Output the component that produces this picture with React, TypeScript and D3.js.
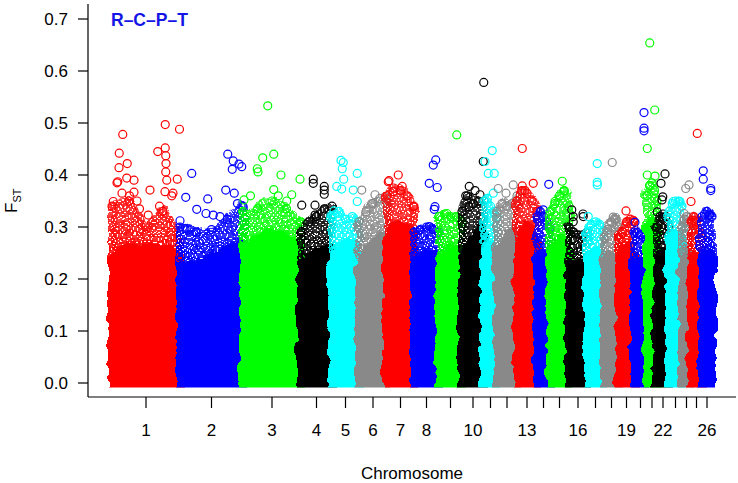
import React from "react";
import * as d3 from "d3";

// sheep autosomes, lengths in Mb
const chromosomes = d3.range(1, 27);
const chrLengths = [
  272, 252, 232, 124, 108, 112, 108, 100, 92, 88, 52, 80, 80, 52, 76, 72, 68, 60,
  60, 52, 40, 48, 52, 36, 44, 40,
];
const chrColors = ["#ff0000", "#0000ff", "#00ff00", "#000000", "#00ffff", "#898989"];
const xTickLabels = [
  "1", "2", "3", "4", "5", "6", "7", "8", "", "10", "", "", "13", "", "", "16", "", "",
  "19", "", "", "22", "", "", "", "26",
];
const yTicks = [0, 0.1, 0.2, 0.3, 0.4, 0.5, 0.6, 0.7];

// dense part of each chromosome: sampled at these fractions of its length
const bandFrac = [0, 0.25, 0.5, 0.75, 1];
// solid core top
const bandCore = [
  [0.24, 0.26, 0.26, 0.26, 0.24],
  [0.225, 0.23, 0.24, 0.255, 0.27],
  [0.26, 0.28, 0.29, 0.28, 0.26],
  [0.23, 0.245, 0.25, 0.255, 0.26],
  [0.24, 0.26, 0.27, 0.27, 0.25],
  [0.23, 0.25, 0.27, 0.28, 0.28],
  [0.28, 0.3, 0.305, 0.3, 0.28],
  [0.24, 0.245, 0.25, 0.245, 0.24],
  [0.24, 0.25, 0.26, 0.25, 0.24],
  [0.24, 0.26, 0.27, 0.29, 0.3],
  [0.26, 0.265, 0.265, 0.26, 0.25],
  [0.25, 0.26, 0.28, 0.29, 0.28],
  [0.27, 0.29, 0.305, 0.29, 0.27],
  [0.24, 0.25, 0.25, 0.25, 0.24],
  [0.25, 0.265, 0.275, 0.27, 0.25],
  [0.22, 0.23, 0.23, 0.23, 0.22],
  [0.24, 0.25, 0.255, 0.25, 0.24],
  [0.23, 0.24, 0.245, 0.24, 0.23],
  [0.24, 0.255, 0.26, 0.26, 0.25],
  [0.23, 0.235, 0.235, 0.23, 0.225],
  [0.29, 0.305, 0.31, 0.3, 0.29],
  [0.24, 0.25, 0.255, 0.25, 0.24],
  [0.27, 0.28, 0.29, 0.29, 0.28],
  [0.24, 0.25, 0.252, 0.25, 0.24],
  [0.23, 0.245, 0.246, 0.24, 0.23],
  [0.24, 0.25, 0.255, 0.25, 0.24],
];
// top of the overlapping-circle fringe
const bandEdge = [
  [0.34, 0.35, 0.3, 0.33, 0.27],
  [0.3, 0.29, 0.295, 0.315, 0.34],
  [0.33, 0.335, 0.35, 0.335, 0.31],
  [0.29, 0.31, 0.32, 0.335, 0.34],
  [0.32, 0.33, 0.315, 0.32, 0.31],
  [0.31, 0.33, 0.345, 0.355, 0.35],
  [0.36, 0.375, 0.37, 0.36, 0.34],
  [0.29, 0.295, 0.3, 0.295, 0.29],
  [0.32, 0.325, 0.32, 0.32, 0.31],
  [0.33, 0.36, 0.345, 0.35, 0.35],
  [0.35, 0.355, 0.34, 0.33, 0.32],
  [0.33, 0.345, 0.34, 0.345, 0.36],
  [0.35, 0.37, 0.365, 0.35, 0.33],
  [0.32, 0.33, 0.32, 0.31, 0.3],
  [0.33, 0.345, 0.36, 0.37, 0.34],
  [0.3, 0.29, 0.285, 0.285, 0.29],
  [0.29, 0.305, 0.31, 0.305, 0.29],
  [0.28, 0.295, 0.31, 0.315, 0.3],
  [0.28, 0.29, 0.31, 0.315, 0.31],
  [0.29, 0.29, 0.285, 0.28, 0.27],
  [0.36, 0.38, 0.385, 0.37, 0.35],
  [0.3, 0.32, 0.325, 0.32, 0.3],
  [0.33, 0.345, 0.35, 0.35, 0.34],
  [0.3, 0.315, 0.32, 0.31, 0.29],
  [0.31, 0.32, 0.31, 0.29, 0.28],
  [0.32, 0.325, 0.33, 0.325, 0.32],
];

// [chromosome, position within chromosome (Mb), Fst]
const outliers: [number, number, number][] = [
  [1, 43, 0.478], [1, 213, 0.497], [1, 270, 0.488], [1, 29, 0.442], [1, 61, 0.422],
  [1, 28, 0.414], [1, 183, 0.445], [1, 213, 0.452], [1, 215, 0.437], [1, 216, 0.422],
  [1, 215, 0.406], [1, 219, 0.39], [1, 261, 0.392], [1, 152, 0.371], [1, 59, 0.394],
  [1, 88, 0.39], [1, 23, 0.387], [1, 20, 0.385], [1, 239, 0.36], [1, 5, 0.349],
  [1, 145, 0.323], [1, 212, 0.368], [1, 244, 0.365], [1, 88, 0.367], [1, 70, 0.36],
  [1, 110, 0.335], [1, 190, 0.34], [1, 40, 0.365], [1, 100, 0.35],
  [2, 47, 0.403], [2, 23, 0.357], [2, 111, 0.354], [2, 67, 0.334], [2, 104, 0.326],
  [2, 133, 0.323], [2, 191, 0.44], [2, 213, 0.427], [2, 236, 0.421], [2, 209, 0.411],
  [2, 247, 0.416], [2, 183, 0.371], [2, 217, 0.365], [2, 0, 0.312], [2, 20, 0.297],
  [2, 160, 0.32], [2, 230, 0.345],
  [3, 99, 0.533], [3, 79, 0.433], [3, 123, 0.44], [3, 57, 0.412], [3, 60, 0.406],
  [3, 152, 0.4], [3, 228, 0.392], [3, 123, 0.372], [3, 195, 0.362], [3, 141, 0.36],
  [3, 4, 0.352], [3, 30, 0.36], [3, 175, 0.35],
  [4, 49, 0.392], [4, 49, 0.384], [4, 93, 0.378], [4, 93, 0.371], [4, 93, 0.363],
  [4, 3, 0.342], [4, 56, 0.342], [4, 56, 0.323],
  [5, 36, 0.428], [5, 45, 0.424], [5, 41, 0.412], [5, 101, 0.403], [5, 47, 0.392],
  [5, 19, 0.378], [5, 39, 0.373], [5, 85, 0.371], [5, 101, 0.349], [5, 8, 0.331],
  [6, 11, 0.371], [6, 64, 0.362], [6, 104, 0.358], [6, 51, 0.345],
  [7, 45, 0.4], [7, 5, 0.387], [7, 61, 0.378], [7, 25, 0.368], [7, 105, 0.339], [7, 8, 0.389],
  [8, 87, 0.429], [8, 77, 0.419], [8, 61, 0.384], [8, 93, 0.376], [8, 84, 0.339],
  [8, 81, 0.334], [8, 61, 0.301],
  [9, 71, 0.477], [9, 31, 0.326],
  [10, 87, 0.578], [10, 85, 0.426], [10, 29, 0.378], [10, 52, 0.37], [10, 15, 0.36],
  [10, 72, 0.362], [10, 29, 0.339],
  [11, 33, 0.447], [11, 4, 0.426], [11, 17, 0.403], [11, 41, 0.403], [11, 37, 0.365],
  [12, 5, 0.374], [12, 36, 0.365], [12, 65, 0.381],
  [13, 21, 0.451], [13, 65, 0.384], [13, 21, 0.379], [13, 32, 0.37],
  [14, 47, 0.382], [14, 25, 0.333],
  [15, 49, 0.388], [15, 56, 0.369], [15, 20, 0.349],
  [16, 11, 0.333], [16, 17, 0.32], [16, 57, 0.32], [16, 17, 0.31], [16, 56, 0.325],
  [17, 41, 0.422], [17, 41, 0.386], [17, 41, 0.381], [17, 5, 0.32],
  [18, 33, 0.424], [18, 37, 0.319],
  [19, 28, 0.331], [19, 57, 0.313],
  [20, 40, 0.52], [20, 40, 0.49], [20, 40, 0.485], [20, 4, 0.309],
  [21, 11, 0.654], [21, 31, 0.525], [21, 1, 0.451], [21, 1, 0.4], [21, 32, 0.398],
  [21, 12, 0.379],
  [22, 32, 0.402], [22, 16, 0.384], [22, 23, 0.358], [22, 20, 0.352], [22, 1, 0.329],
  [22, 23, 0.315],
  [23, 17, 0.349], [23, 44, 0.349],
  [24, 28, 0.381], [24, 15, 0.374], [24, 8, 0.326],
  [25, 25, 0.48], [25, 0, 0.349], [25, 12, 0.313],
  [26, 5, 0.408], [26, 5, 0.392], [26, 35, 0.374], [26, 35, 0.37], [26, 29, 0.322],
];

const width = 738;
const height = 483;
const font = "'Liberation Sans', Arial, Helvetica, sans-serif";
const R = 4;

export default function App() {
  const starts = [0, ...Array.from(d3.cumsum(chrLengths))].slice(0, chrLengths.length);
  const total = d3.sum(chrLengths);

  const x = d3.scaleLinear().domain([0, total]).range([112, 712]);
  const y = d3.scaleLinear().domain([0, 0.7]).range([383, 19]);
  const floor = y(0) + R + 0.5;

  // areas run below the floor and get clipped, so the roughening filter only shows on top
  const area = d3
    .area<[number, number]>()
    .x((d) => x(d[0]))
    .y0(floor + 8)
    .y1((d) => y(d[1]))
    .curve(d3.curveMonotoneX);

  const colorOf = (chr: number) => chrColors[(chr - 1) % chrColors.length];

  return (
    <svg
      width={width}
      height={height}
      style={{ position: "absolute", left: 0, top: 0, background: "#fff" }}
      fontFamily={font}
    >
      <defs>
        {chrColors.map((c, i) => (
          <pattern
            key={c}
            id={`rings-${i}`}
            width={5}
            height={5}
            patternUnits="userSpaceOnUse"
          >
            {[
              [0, 0],
              [5, 0],
              [0, 5],
              [5, 5],
              [2.5, 2.5],
            ].map(([cx, cy], j) => (
              <circle key={j} cx={cx} cy={cy} r={R} fill="none" stroke={c} strokeWidth={1.3} />
            ))}
          </pattern>
        ))}
        <linearGradient
          id="fade"
          gradientUnits="userSpaceOnUse"
          x1={0}
          x2={0}
          y1={y(0.25)}
          y2={y(0.37)}
        >
          <stop offset="0" stopColor="#fff" stopOpacity={1} />
          <stop offset="1" stopColor="#fff" stopOpacity={0.8} />
        </linearGradient>
        <mask id="fringe" maskUnits="userSpaceOnUse" x={0} y={0} width={width} height={height}>
          <rect x={0} y={0} width={width} height={height} fill="url(#fade)" />
        </mask>
        <filter
          id="rough"
          filterUnits="userSpaceOnUse"
          x={0}
          y={0}
          width={width}
          height={height}
        >
          <feTurbulence type="fractalNoise" baseFrequency="0.09" numOctaves={2} seed={3} result="n" />
          <feDisplacementMap
            in="SourceGraphic"
            in2="n"
            scale={9}
            xChannelSelector="R"
            yChannelSelector="G"
          />
        </filter>
        <clipPath id="plotFloor">
          <rect x={0} y={0} width={width} height={floor} />
        </clipPath>
      </defs>

      <g clipPath="url(#plotFloor)">
        {chromosomes.map((chr, i) => {
          const c = colorOf(chr);
          const pid = `url(#rings-${(chr - 1) % chrColors.length})`;
          const edgePts = bandFrac.map(
            (f, k) => [starts[i] + f * chrLengths[i], bandEdge[i][k]] as [number, number]
          );
          const corePts = bandFrac.map(
            (f, k) => [starts[i] + f * chrLengths[i], bandCore[i][k]] as [number, number]
          );
          const pts = outliers.filter((o) => o[0] === chr);
          return (
            <g key={chr}>
              <g filter="url(#rough)">
                <path
                  d={area(edgePts) ?? ""}
                  fill={pid}
                  stroke={pid}
                  strokeWidth={2 * R}
                  strokeLinejoin="round"
                  mask="url(#fringe)"
                />
                <path
                  d={area(corePts) ?? ""}
                  fill={c}
                  stroke={c}
                  strokeWidth={2 * R}
                  strokeLinejoin="round"
                />
              </g>
              {edgePts.map((p, j) => (
                <circle
                  key={`e${j}`}
                  cx={x(p[0])}
                  cy={y(p[1])}
                  r={R}
                  fill="none"
                  stroke={c}
                  strokeWidth={1.2}
                />
              ))}
              {pts.map((p, j) => (
                <circle
                  key={j}
                  cx={x(starts[i] + p[1])}
                  cy={y(p[2])}
                  r={R}
                  fill="none"
                  stroke={c}
                  strokeWidth={1.2}
                />
              ))}
            </g>
          );
        })}
      </g>

      {/* L-shaped frame */}
      <line x1={88} x2={88} y1={4} y2={397} stroke="#000" strokeWidth={1.2} />
      <line x1={88} x2={736} y1={397} y2={397} stroke="#000" strokeWidth={1.2} />

      {/* y axis */}
      {yTicks.map((t) => (
        <g key={t}>
          <line x1={78} x2={88} y1={y(t)} y2={y(t)} stroke="#000" strokeWidth={1.2} />
          <text x={68} y={y(t)} dy="0.36em" textAnchor="end" fontSize={17}>
            {t.toFixed(1)}
          </text>
        </g>
      ))}
      <text transform="translate(17,213) rotate(-90)" fontSize={17}>
        F
        <tspan fontSize={11} dy={4}>
          ST
        </tspan>
      </text>

      {/* x axis */}
      {chromosomes.map((chr, i) => {
        const cx = x(starts[i] + chrLengths[i] / 2);
        return (
          <g key={chr}>
            <line x1={cx} x2={cx} y1={397} y2={408} stroke="#000" strokeWidth={1.2} />
            {xTickLabels[i] && (
              <text x={cx} y={436} textAnchor="middle" fontSize={17}>
                {xTickLabels[i]}
              </text>
            )}
          </g>
        );
      })}
      <text x={412} y={479} textAnchor="middle" fontSize={17}>
        Chromosome
      </text>

      <text x={111} y={26} fontSize={17.5} fontWeight="bold" fill="#1414e6">
        R–C–P–T
      </text>
    </svg>
  );
}
